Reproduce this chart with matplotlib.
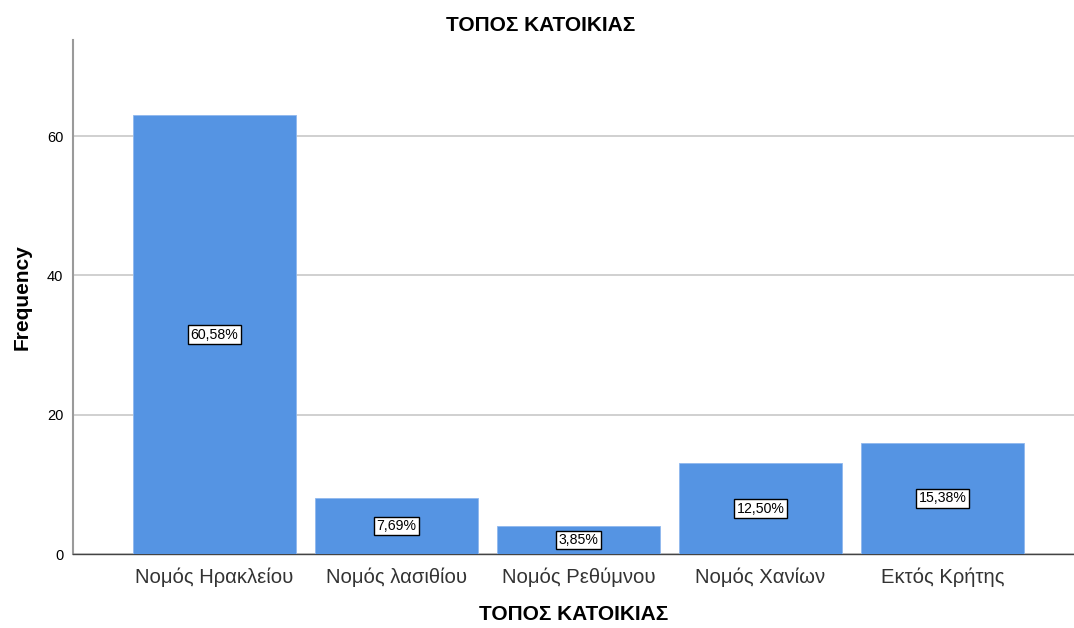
import matplotlib
matplotlib.use("Agg")
import matplotlib.pyplot as plt

plt.rcParams['font.family'] = ['Liberation Sans', 'DejaVu Sans']

# Frequencies by place of residence
categories = ["Νομός Ηρακλείου", "Νομός λασιθίου", "Νομός Ρεθύμνου", "Νομός Χανίων", "Εκτός Κρήτης"]
counts = [63, 8, 4, 13, 16]
percent_labels = ["60,58%", "7,69%", "3,85%", "12,50%", "15,38%"]
yticks = [0, 20, 40, 60]

BAR_COLOR = "#5594e3"

fig = plt.figure(figsize=(10.74, 6.28), dpi=100)
ax = fig.add_axes([0.068, 0.1178, 0.932, 0.8185])

x = list(range(len(categories)))
ax.bar(x, counts, width=0.896, color=BAR_COLOR, edgecolor="#8fb8ee", linewidth=0.6, zorder=3)

for xi, c, lab in zip(x, counts, percent_labels):
    ax.text(xi, c / 2, lab, ha="center", va="center", fontsize=10.2, zorder=4,
            bbox=dict(boxstyle="square,pad=0.16", facecolor="white", edgecolor="black", linewidth=1))

ax.set_xlim(-0.777, 4.723)
ax.set_ylim(0, 73.8)
ax.set_yticks(yticks)
ax.set_xticks(x)
ax.set_xticklabels(categories, fontsize=14.6, color="#333333")
ax.tick_params(axis="y", labelsize=10.5, length=0, pad=7)
ax.tick_params(axis="x", length=0, pad=10)
ax.yaxis.grid(True, color="#c8c8c8", linewidth=1.2, zorder=0)
ax.set_axisbelow(True)

for side in ("top", "right"):
    ax.spines[side].set_visible(False)
ax.spines["left"].set_color("#9a9a9a")
ax.spines["left"].set_linewidth(1.5)
ax.spines["bottom"].set_color("#444444")
ax.spines["bottom"].set_linewidth(1.0)

ax.set_ylabel("Frequency", fontsize=15, fontweight="bold", labelpad=11)
ax.set_xlabel("ΤΟΠΟΣ ΚΑΤΟΙΚΙΑΣ", fontsize=15, fontweight="bold", labelpad=13)
fig.text(0.503, 0.959, "ΤΟΠΟΣ ΚΑΤΟΙΚΙΑΣ", ha="center", va="center", fontsize=15, fontweight="bold")

fig.savefig("out.png", dpi=100)
